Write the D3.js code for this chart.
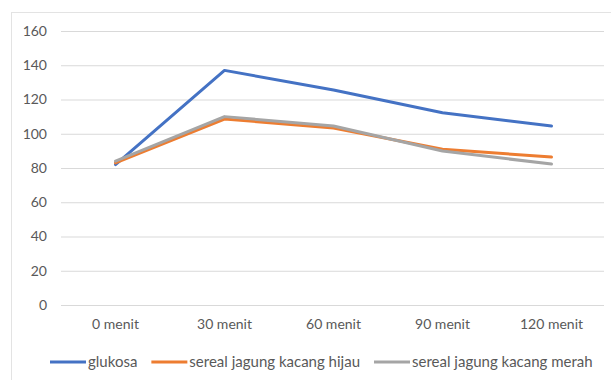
<!DOCTYPE html>
<html>
<head>
<meta charset="utf-8">
<script src="https://cdn.jsdelivr.net/npm/d3@7"></script>
<style>
  html, body { margin: 0; padding: 0; background: #fff; }
  svg { display: block; }
  text { font-family: Lato, "Open Sans", sans-serif; fill: #595959; }
</style>
</head>
<body>
<svg id="chart" width="611" height="380"></svg>
<script>
// Blood glucose response over time (mg/dL)
const categories = ["0 menit", "30 menit", "60 menit", "90 menit", "120 menit"];
const seriesNames = ["glukosa", "sereal jagung kacang hijau", "sereal jagung kacang merah"];
const glukosa = [82, 137, 125.5, 112.3, 104.5];
const serealHijau = [83, 108.6, 103.4, 90.9, 86.4];
const serealMerah = [84, 110, 104.5, 89.9, 82.3];
const yTicks = [0, 20, 40, 60, 80, 100, 120, 140, 160];
const colors = ["#4472C4", "#ED7D31", "#A5A5A5"];

const series = [glukosa, serealHijau, serealMerah].map((values, i) => ({
  name: seriesNames[i], values, color: colors[i]
}));

const svg = d3.select("#chart");

// outer chart frame
svg.append("rect")
  .attr("x", 11.5).attr("y", 12.5)
  .attr("width", 640).attr("height", 400)
  .attr("fill", "none").attr("stroke", "#e3e3e3").attr("stroke-width", 1);

const plot = { left: 61, right: 606, top: 31, bottom: 305 };

const x = d3.scaleBand().domain(categories).range([plot.left, plot.right]);
const y = d3.scaleLinear().domain([0, 160]).range([plot.bottom, plot.top]);

// horizontal gridlines + y tick labels
const yAxis = d3.axisLeft(y).tickValues(yTicks).tickSize(-(604 - plot.left)).tickPadding(14);
const gy = svg.append("g").attr("transform", `translate(${plot.left},0)`).call(yAxis);
gy.select(".domain").remove();
gy.selectAll(".tick line").attr("stroke", "#d9d9d9").attr("stroke-width", 1);
gy.selectAll(".tick text").attr("font-size", 14).attr("fill", "#595959")
  .style("font-family", "Lato, 'Open Sans', sans-serif");

// category labels
const xAxis = d3.axisBottom(x).tickSize(0).tickPadding(14);
const gx = svg.append("g").attr("transform", `translate(0,${plot.bottom})`).call(xAxis);
gx.select(".domain").remove();
gx.selectAll(".tick text").attr("font-size", 14).attr("fill", "#595959")
  .style("font-family", "Lato, 'Open Sans', sans-serif");

// series lines
const line = d3.line()
  .x((d, i) => x(categories[i]) + x.bandwidth() / 2)
  .y(d => y(d));

svg.append("g").selectAll("path")
  .data(series)
  .join("path")
  .attr("d", d => line(d.values))
  .attr("fill", "none")
  .attr("stroke", d => d.color)
  .attr("stroke-width", 3)
  .attr("stroke-linejoin", "round")
  .attr("stroke-linecap", "round");

// legend
const legend = svg.append("g").attr("transform", "translate(50,362)");
let cursor = 0;
series.forEach(s => {
  const item = legend.append("g").attr("transform", `translate(${cursor},0)`);
  item.append("line")
    .attr("x1", 0).attr("x2", 36).attr("y1", 0).attr("y2", 0)
    .attr("stroke", s.color).attr("stroke-width", 3);
  const t = item.append("text")
    .attr("x", 38).attr("y", 0).attr("dy", "0.35em")
    .attr("font-size", 15)
    .text(s.name);
  cursor += 38 + t.node().getComputedTextLength() + 14;
});
</script>
</body>
</html>
